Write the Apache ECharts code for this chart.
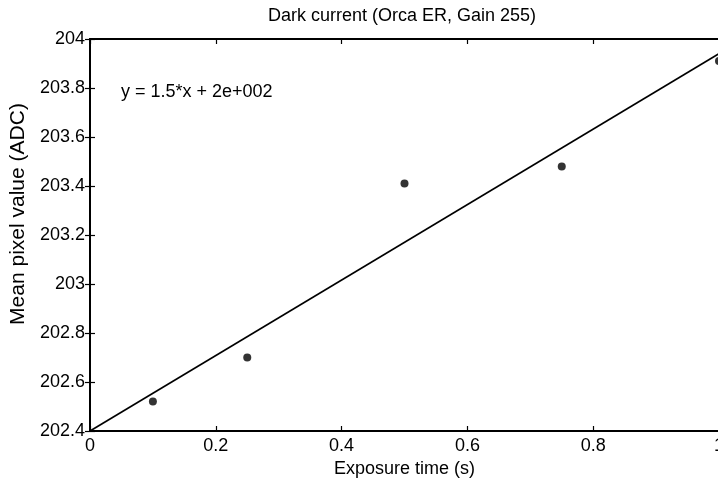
<!DOCTYPE html>
<html>
<head>
<meta charset="utf-8">
<script src="https://cdn.jsdelivr.net/npm/echarts@6/dist/echarts.min.js"></script>
<style>
html,body{margin:0;padding:0;background:#fff;overflow:hidden;}
#c{width:718px;height:481px;}
</style>
</head>
<body>
<div id="c"></div>
<script>
var exposureTimes = [0.1, 0.25, 0.5, 0.75, 1.0];
var meanPixel = [202.52, 202.70, 203.41, 203.48, 203.91];
var fitX = [0, 1];
var fitY = [202.40, 203.94];
var titleText = 'Dark current (Orca ER, Gain 255)';
var xName = 'Exposure time (s)';
var yName = 'Mean pixel value (ADC)';
var fitLabel = 'y = 1.5*x + 2e+002';

var font = 'Liberation Sans, Arial, sans-serif';
var chart = echarts.init(document.getElementById('c'), null, {renderer: 'canvas'});
var axisLine = {show: true, lineStyle: {color: '#000', width: 2}};
var tick = {show: true, inside: true, length: 5, lineStyle: {color: '#000', width: 1.2}};
chart.setOption({
  animation: false,
  backgroundColor: '#fff',
  title: {
    text: titleText, left: 402, top: 7, textAlign: 'center', padding: 0,
    textStyle: {fontFamily: font, fontSize: 18, fontWeight: 'normal', color: '#000'}
  },
  grid: {left: 90, width: 629, top: 39, height: 392, containLabel: false, outerBoundsMode: 'none'},
  xAxis: [{
    type: 'value', min: 0, max: 1, interval: 0.2, position: 'bottom',
    name: xName, nameLocation: 'middle', nameGap: 28,
    nameTextStyle: {fontFamily: font, fontSize: 18, color: '#000'},
    axisLine: axisLine, axisTick: tick, splitLine: {show: false},
    axisLabel: {fontFamily: font, fontSize: 18, color: '#000', margin: 6}
  }, {
    type: 'value', min: 0, max: 1, interval: 0.2, position: 'top',
    axisLine: axisLine, axisTick: tick, splitLine: {show: false},
    axisLabel: {show: false}
  }],
  yAxis: [{
    type: 'value', min: 202.4, max: 204, interval: 0.2, position: 'left',
    name: yName, nameLocation: 'middle', nameGap: 56, nameRotate: 90,
    nameTextStyle: {fontFamily: font, fontSize: 21, color: '#000', padding: [0, 0, 0, 42]},
    axisLine: axisLine, axisTick: tick, splitLine: {show: false},
    axisLabel: {fontFamily: font, fontSize: 18, color: '#000', margin: 5}
  }, {
    type: 'value', min: 202.4, max: 204, interval: 0.2, position: 'right',
    axisLine: axisLine, axisTick: tick, splitLine: {show: false},
    axisLabel: {show: false}
  }],
  graphic: [{
    type: 'text', left: 121, top: 83,
    style: {text: fitLabel, fontFamily: font, fontSize: 18, fill: '#000'}
  }],
  series: [{
    type: 'line',
    data: fitX.map(function (x, i) { return [x, fitY[i]]; }),
    symbol: 'none',
    lineStyle: {color: '#000', width: 1.6},
    z: 2
  }, {
    type: 'scatter',
    data: exposureTimes.map(function (x, i) { return [x, meanPixel[i]]; }),
    symbol: 'circle', symbolSize: 8,
    itemStyle: {color: '#000'},
    clip: false,
    z: 3
  }]
});
</script>
</body>
</html>
